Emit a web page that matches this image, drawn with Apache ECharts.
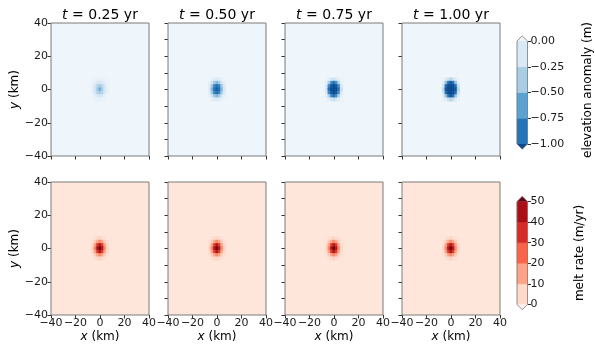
<!DOCTYPE html>
<html><head><meta charset="utf-8">
<script src="https://cdn.jsdelivr.net/npm/echarts@6/dist/echarts.min.js"></script>
<style>html,body{margin:0;padding:0;background:#fff}#c{width:595px;height:344px}</style>
</head><body><div id="c"></div><script>
// ---------------- data ----------------
const times = ['0.25', '0.50', '0.75', '1.00'];
const cellX = [-6, -4, -2, 0, 2, 4, 6];      // km, cell centres
const cellY = [6, 4, 2, 0, -2, -4, -6];      // km, cell centres
const elevBackground = [0.1, 0.1, 0.1, 0.1];
const elevT025 = [
  [0.10, 0.08, 0.04, 0.03, 0.04, 0.08, 0.10],
  [0.08, 0.00, -0.10, -0.15, -0.10, 0.00, 0.08],
  [0.03, -0.12, -0.30, -0.38, -0.30, -0.12, 0.03],
  [0.02, -0.15, -0.38, -0.55, -0.38, -0.15, 0.02],
  [0.03, -0.12, -0.30, -0.38, -0.30, -0.12, 0.03],
  [0.08, 0.00, -0.10, -0.15, -0.10, 0.00, 0.08],
  [0.10, 0.08, 0.04, 0.03, 0.04, 0.08, 0.10]
];
const elevT050 = [
  [0.10, 0.03, -0.06, -0.10, -0.06, 0.03, 0.10],
  [0.02, -0.15, -0.40, -0.50, -0.40, -0.15, 0.02],
  [-0.06, -0.40, -0.80, -0.90, -0.80, -0.40, -0.06],
  [-0.10, -0.50, -0.90, -1.00, -0.90, -0.50, -0.10],
  [-0.06, -0.40, -0.80, -0.90, -0.80, -0.40, -0.06],
  [0.02, -0.15, -0.40, -0.50, -0.40, -0.15, 0.02],
  [0.10, 0.03, -0.06, -0.10, -0.06, 0.03, 0.10]
];
const elevT075 = [
  [0.08, 0.00, -0.12, -0.20, -0.12, 0.00, 0.08],
  [0.00, -0.35, -0.75, -0.90, -0.75, -0.35, 0.00],
  [-0.12, -0.75, -1.05, -1.12, -1.05, -0.75, -0.12],
  [-0.20, -0.90, -1.12, -1.18, -1.12, -0.90, -0.20],
  [-0.12, -0.75, -1.05, -1.12, -1.05, -0.75, -0.12],
  [0.00, -0.35, -0.75, -0.90, -0.75, -0.35, 0.00],
  [0.08, 0.00, -0.12, -0.20, -0.12, 0.00, 0.08]
];
const elevT100 = [
  [0.05, -0.05, -0.20, -0.30, -0.20, -0.05, 0.05],
  [-0.05, -0.45, -0.90, -1.05, -0.90, -0.45, -0.05],
  [-0.20, -0.90, -1.20, -1.25, -1.20, -0.90, -0.20],
  [-0.30, -1.05, -1.25, -1.30, -1.25, -1.05, -0.30],
  [-0.20, -0.90, -1.20, -1.25, -1.20, -0.90, -0.20],
  [-0.05, -0.45, -0.90, -1.05, -0.90, -0.45, -0.05],
  [0.05, -0.05, -0.20, -0.30, -0.20, -0.05, 0.05]
];
const meltBackground = [0, 0, 0, 0];
const meltT025 = [
  [0, 2, 4, 6, 4, 2, 0],
  [2, 7, 15, 20, 15, 7, 2],
  [4, 15, 33, 43, 33, 15, 4],
  [6, 20, 43, 55, 43, 20, 6],
  [4, 15, 33, 43, 33, 15, 4],
  [2, 7, 15, 20, 15, 7, 2],
  [0, 2, 4, 6, 4, 2, 0]
];
const meltT050 = meltT025, meltT075 = meltT025, meltT100 = meltT025;
const elevLevels = [-1, -0.75, -0.5, -0.25, 0];
const meltLevels = [0, 10, 20, 30, 40, 50];

// ---------------- style / layout ----------------
const elevColors = ['#0b4a8f', '#2474b7', '#5ba2d0', '#a9cde5', '#d9e8f5', '#f0f6fc'];
const meltColors = ['#fff2ec', '#fdd9c9', '#fca487', '#f86548', '#d72b25', '#a81016', '#6b010e'];
const FONT = 'DejaVu Sans';
const PANEL_LEFT = [51, 168, 285, 402], PANEL_W = 98, ROW_TOP = [23, 182], PANEL_H = 133;
const CB_LEFT = 517, CB_W = 10.5, CB_TOP = [41, 201.5], CB_H = 103;
const CELL = 2;

const elevBlobs = [elevT025, elevT050, elevT075, elevT100];
const meltBlobs = [meltT025, meltT050, meltT075, meltT100];

const grids = [], xAxes = [], yAxes = [], series = [], graphics = [];
const elevIdx = [], meltIdx = [];
const minus = s => String(s).replace('-', '\u2212');

function bgRender(params, api) {
  const p0 = api.coord([-40, 40]), p1 = api.coord([40, -40]);
  return {type: 'rect', shape: {x: p0[0], y: p0[1], width: p1[0] - p0[0], height: p1[1] - p0[1]},
    style: {fill: api.visual('color'), stroke: '#7a7a7a', lineWidth: 1}};
}
function cellRender(params, api) {
  const x = api.value(0), y = api.value(1);
  const p0 = api.coord([x - CELL / 2, y + CELL / 2]), p1 = api.coord([x + CELL / 2, y - CELL / 2]);
  const c = api.visual('color');
  return {type: 'rect', shape: {x: p0[0], y: p0[1], width: p1[0] - p0[0], height: p1[1] - p0[1]},
    style: {fill: c, stroke: c, lineWidth: 0.6}};
}
const tickStyle = {show: true, length: 3.5, lineStyle: {color: '#333', width: 1}};

for (let r = 0; r < 2; r++) {
  for (let c = 0; c < 4; c++) {
    const g = r * 4 + c;
    grids.push({left: PANEL_LEFT[c], top: ROW_TOP[r], width: PANEL_W, height: PANEL_H,
      containLabel: false, outerBoundsMode: 'none'});
    xAxes.push({type: 'value', gridIndex: g, position: 'bottom', min: -40, max: 40, interval: 20,
      axisLine: {show: false, onZero: false}, splitLine: {show: false}, axisTick: tickStyle,
      axisLabel: {show: r === 1, margin: 3, fontFamily: FONT, fontSize: 11, color: '#1a1a1a', formatter: minus}});
    const yInt = (c === 0 || (r === 0 && c === 3)) ? 20 : 10;
    yAxes.push({type: 'value', gridIndex: g, position: 'left', min: -40, max: 40, interval: yInt,
      axisLine: {show: false, onZero: false}, splitLine: {show: false}, axisTick: tickStyle,
      axisLabel: {show: c === 0, margin: 3, fontFamily: FONT, fontSize: 11, color: '#1a1a1a', formatter: minus}});
    const bg = r === 0 ? elevBackground[c] : meltBackground[c];
    const blob = r === 0 ? elevBlobs[c] : meltBlobs[c];
    const cells = [];
    cellY.forEach((yy, i) => cellX.forEach((xx, j) => cells.push([xx, yy, blob[i][j]])));
    (r === 0 ? elevIdx : meltIdx).push(series.length, series.length + 1);
    series.push({type: 'custom', xAxisIndex: g, yAxisIndex: g, silent: true, z: 1,
      renderItem: bgRender, data: [[0, 0, bg]]});
    series.push({type: 'custom', xAxisIndex: g, yAxisIndex: g, silent: true, z: 2,
      renderItem: cellRender, data: cells});
    if (r === 0) {
      graphics.push({type: 'text', x: PANEL_LEFT[c] + PANEL_W / 2, y: 15,
        style: {text: '{i|t} = ' + times[c] + ' yr', align: 'center', verticalAlign: 'middle',
          fontFamily: FONT, fontSize: 14, fill: '#000',
          rich: {i: {fontStyle: 'italic', fontFamily: FONT, fontSize: 14, fill: '#000'}}}});
    } else {
      graphics.push({type: 'text', x: PANEL_LEFT[c] + PANEL_W / 2, y: 337,
        style: {text: '{i|x} (km)', align: 'center', verticalAlign: 'middle',
          fontFamily: FONT, fontSize: 12, fill: '#000',
          rich: {i: {fontStyle: 'italic', fontFamily: FONT, fontSize: 12, fill: '#000'}}}});
    }
  }
  graphics.push({type: 'text', x: 15, y: ROW_TOP[r] + PANEL_H / 2, rotation: Math.PI / 2,
    style: {text: '{i|y} (km)', align: 'center', verticalAlign: 'middle',
      fontFamily: FONT, fontSize: 12, fill: '#000',
      rich: {i: {fontStyle: 'italic', fontFamily: FONT, fontSize: 12, fill: '#000'}}}});
}

// colorbars
function addColorbar(k, levels, colors, interval, fmt) {
  const g = grids.length;
  grids.push({left: CB_LEFT, top: CB_TOP[k], width: CB_W, height: CB_H, containLabel: false, outerBoundsMode: 'none'});
  const lo = levels[0], hi = levels[levels.length - 1];
  xAxes.push({type: 'value', gridIndex: g, min: 0, max: 1, show: false});
  yAxes.push({type: 'value', gridIndex: g, position: 'right', min: lo, max: hi, interval: interval,
    axisLine: {show: false, onZero: false}, splitLine: {show: false},
    axisTick: {show: true, length: 3.5, lineStyle: {color: '#333'}},
    axisLabel: {margin: 3, fontFamily: FONT, fontSize: 11, color: '#1a1a1a', formatter: fmt}});
  const segs = [];
  for (let i = 0; i < levels.length - 1; i++) segs.push([levels[i], levels[i + 1], i]);
  series.push({type: 'custom', xAxisIndex: g, yAxisIndex: g, silent: true, z: 2, data: segs,
    encode: {x: 2, y: [0, 1]},
    renderItem: (p, api) => {
      const a = api.coord([0, api.value(1)]), b = api.coord([1, api.value(0)]);
      const col = colors[api.value(2) + 1];
      return {type: 'rect', shape: {x: a[0], y: a[1], width: b[0] - a[0], height: b[1] - a[1]},
        style: {fill: col, stroke: col, lineWidth: 0.5}};
    }});
  series.push({type: 'custom', xAxisIndex: g, yAxisIndex: g, silent: true, z: 3, data: [[lo, hi]],
    encode: {y: [0, 1]},
    renderItem: (p, api) => {
      const vmin = api.value(0), vmax = api.value(1), ext = (vmax - vmin) * 0.05;
      const t0 = api.coord([0, vmax]), t1 = api.coord([1, vmax]), ta = api.coord([0.5, vmax + ext]);
      const b0 = api.coord([0, vmin]), b1 = api.coord([1, vmin]), ba = api.coord([0.5, vmin - ext]);
      return {type: 'group', children: [
        {type: 'polygon', shape: {points: [t0, ta, t1]}, style: {fill: colors[colors.length - 1]}},
        {type: 'polygon', shape: {points: [b0, ba, b1]}, style: {fill: colors[0]}},
        {type: 'polygon', shape: {points: [t0, ta, t1, b1, ba, b0]}, style: {fill: 'none', stroke: '#7a7a7a', lineWidth: 0.8}}
      ]};
    }});
}
addColorbar(0, elevLevels, elevColors, 0.25, v => minus(v.toFixed(2)));
addColorbar(1, meltLevels, meltColors, 10, v => String(v));

graphics.push({type: 'text', x: 588, y: 90, rotation: Math.PI / 2,
  style: {text: 'elevation anomaly (m)', align: 'center', verticalAlign: 'middle', fontFamily: FONT, fontSize: 12, fill: '#000'}});
graphics.push({type: 'text', x: 580, y: 253, rotation: Math.PI / 2,
  style: {text: 'melt rate (m/yr)', align: 'center', verticalAlign: 'middle', fontFamily: FONT, fontSize: 12, fill: '#000'}});

const chart = echarts.init(document.getElementById('c'), null, {renderer: 'canvas'});
chart.setOption({
  animation: false,
  backgroundColor: '#fff',
  grid: grids, xAxis: xAxes, yAxis: yAxes,
  visualMap: [
    {type: 'continuous', show: false, min: -1.125, max: 0.125, dimension: 2, seriesIndex: elevIdx,
      inRange: {color: elevColors}},
    {type: 'continuous', show: false, min: -5, max: 55, dimension: 2, seriesIndex: meltIdx,
      inRange: {color: meltColors}}
  ],
  series: series,
  graphic: graphics
});
</script></body></html>
